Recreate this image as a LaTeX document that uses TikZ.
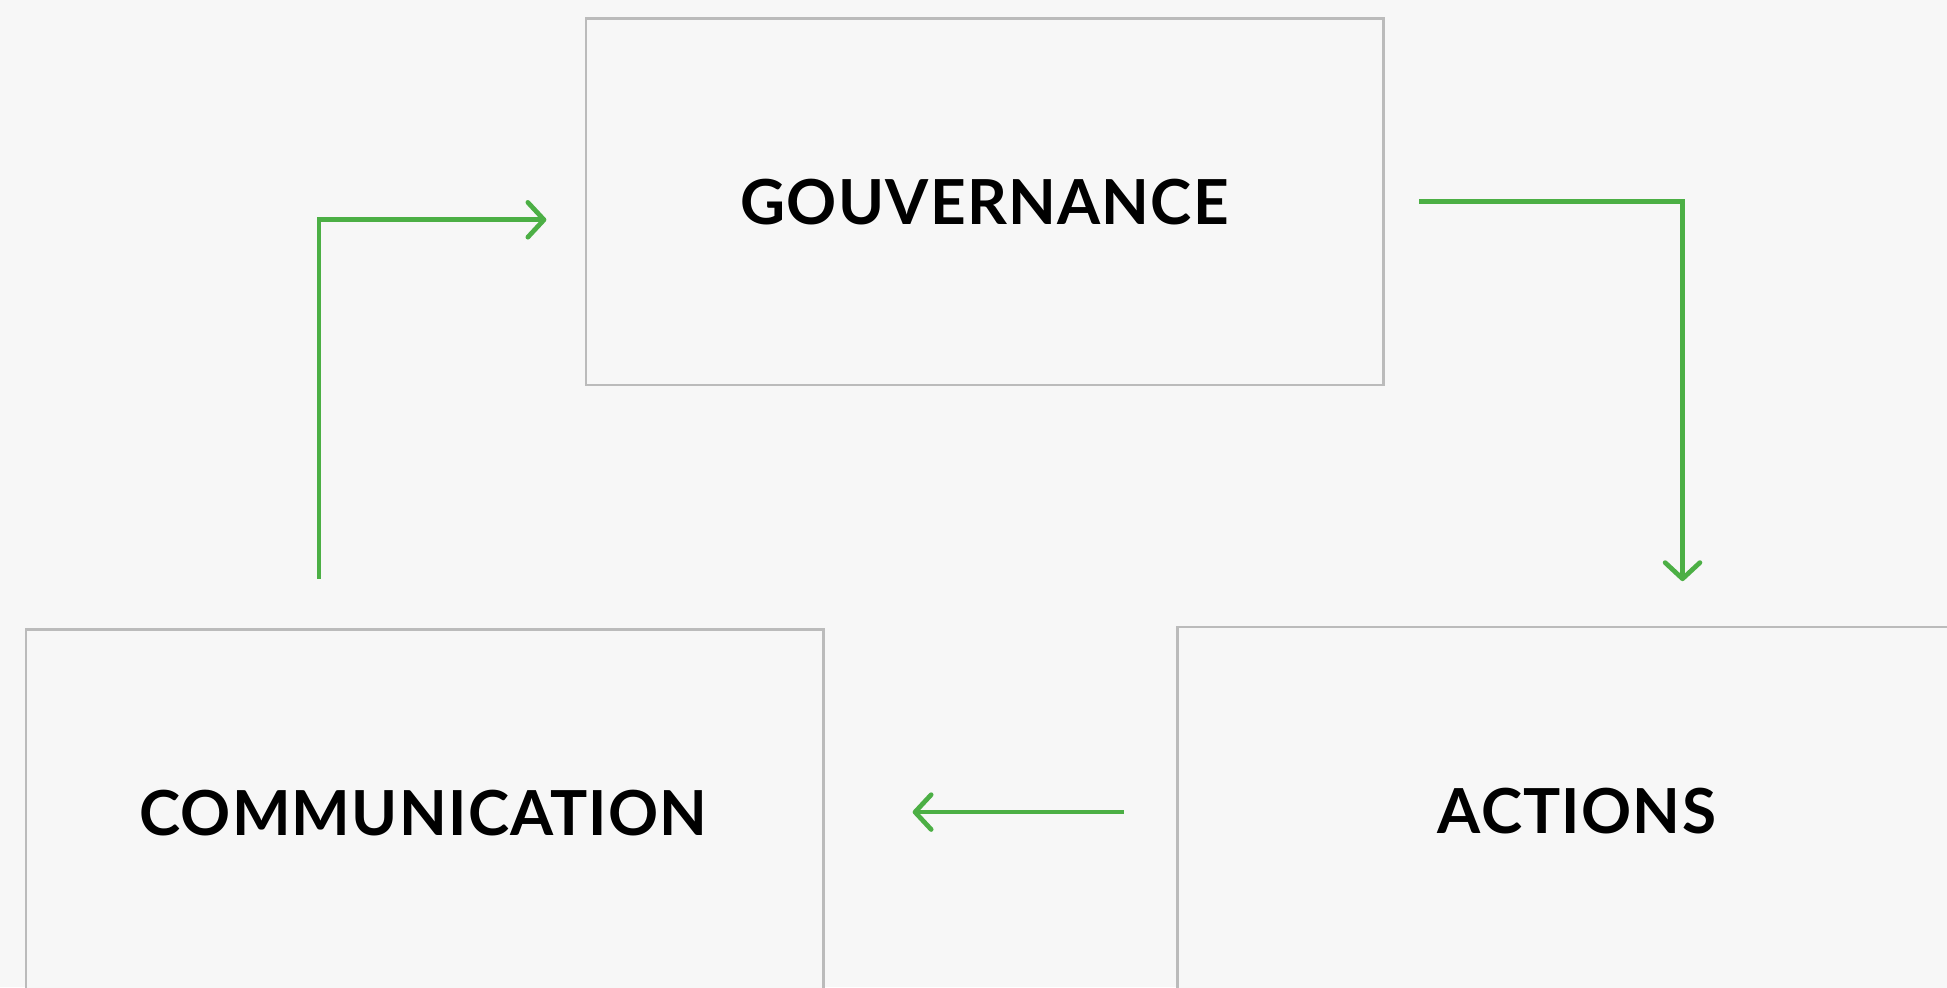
\documentclass[tikz,border=0pt]{standalone}
\usepackage{fontspec}
\setmainfont{Lato}[LetterSpace=2]
\usetikzlibrary{arrows.meta}
\definecolor{bgc}{HTML}{F7F7F7}
\definecolor{boxc}{HTML}{BBBBBB}
\definecolor{grn}{HTML}{4CAF45}
\tikzset{
  panel/.style={draw=boxc, line width=2.2pt, fill=bgc},
  lbl/.style={font=\bfseries\fontsize{50}{60}\selectfont, text=black, inner sep=0pt},
  flow/.style={draw=grn, line width=3.8pt,
    -{Straight Barb[length=13pt,width=28pt,line width=3.8pt,round]}}
}
\begin{document}
\begin{tikzpicture}[x=1pt,y=-1pt]
  \path[fill=bgc] (0,0) rectangle (1568,795);
  \useasboundingbox (0,0) rectangle (1568,795);
  % boxes
  \draw[panel] (472,15) rectangle (1114,310);
  \draw[panel] (21,507) rectangle (663,820);
  \draw[panel] (948,505) rectangle (1600,820);
  % labels
  \node[lbl] (gov) at (793,163) {GOUVERNANCE};
  \node[lbl] (com) at (341,655) {COMMUNICATION};
  \node[lbl] (act) at (1270,653) {ACTIONS};
  % connector end points
  \coordinate (c1) at (257,466);
  \coordinate (g1) at (440,177);
  \coordinate (g2) at (1143,162);
  \coordinate (a1) at (1355,468);
  \coordinate (a2) at (905,654);
  \coordinate (c2) at (735,654);
  \draw[flow] (c1) |- (g1);
  \draw[flow] (g2) -| (a1);
  \draw[flow] (a2) -- (c2);
\end{tikzpicture}
\end{document}
